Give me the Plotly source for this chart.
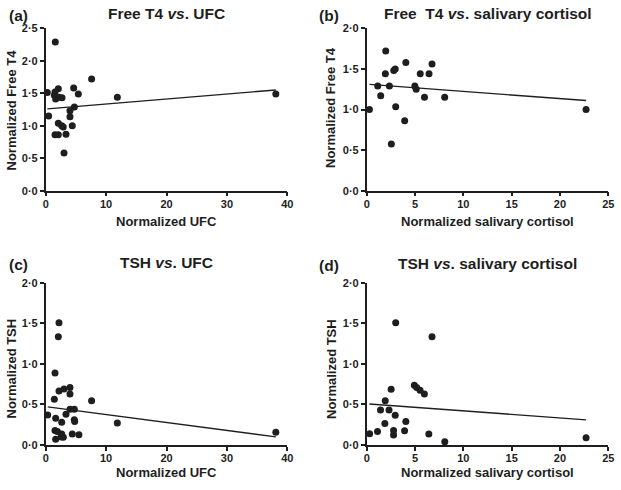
import plotly.graph_objects as go

# ---------------- data ----------------
# (a) Free T4 vs UFC
a_ufc = [1.59, 0.27, 0.49, 1.54, 2.09, 1.43, 1.65, 2.70, 4.63, 5.40, 7.60, 11.86, 38.1,
         4.74, 4.02, 4.02, 4.40, 2.09, 2.65, 2.90, 1.54, 2.09, 3.36, 3.03, 2.20]
a_ft4 = [2.29, 1.51, 1.15, 1.52, 1.57, 1.47, 1.41, 1.43, 1.58, 1.49, 1.72, 1.44, 1.49,
         1.29, 1.23, 1.14, 1.00, 1.04, 1.00, 0.98, 0.86, 0.86, 0.87, 0.58, 1.44]
a_fit_x = [0.27, 38.1]
a_fit_y = [1.26, 1.55]

# (b) Free T4 vs salivary cortisol
b_sal = [0.28, 1.14, 1.45, 1.97, 1.93, 2.35, 2.55, 2.80, 2.95, 3.00, 3.93, 4.05, 4.98,
         5.12, 5.54, 5.98, 6.45, 6.76, 8.07, 22.7]
b_ft4 = [1.00, 1.29, 1.17, 1.72, 1.44, 1.29, 0.575, 1.48, 1.50, 1.035, 0.86, 1.58, 1.29,
         1.25, 1.44, 1.15, 1.44, 1.56, 1.15, 1.00]
b_fit_x = [0.28, 22.7]
b_fit_y = [1.31, 1.11]

# (c) TSH vs UFC
c_ufc = [0.33, 2.20, 2.09, 1.54, 1.43, 2.20, 3.03, 4.02, 4.02, 4.02, 4.74, 3.36, 1.65,
         2.65, 4.74, 4.80, 7.60, 11.86, 38.1, 1.54, 1.93, 1.65, 2.65, 2.92, 2.54, 4.40, 5.50]
c_tsh = [0.37, 1.507, 1.335, 0.887, 0.563, 0.665, 0.69, 0.71, 0.63, 0.44, 0.44, 0.378, 0.33,
         0.28, 0.31, 0.29, 0.546, 0.27, 0.156, 0.18, 0.165, 0.07, 0.135, 0.095, 0.10, 0.135, 0.127]
c_fit_x = [0.33, 38.1]
c_fit_y = [0.47, 0.10]

# (d) TSH vs salivary cortisol
d_sal = [0.30, 1.12, 1.43, 1.92, 1.88, 2.31, 2.53, 3.00, 2.95, 2.78, 2.78, 3.92, 4.05,
         4.93, 5.17, 5.52, 5.97, 6.76, 6.43, 8.08, 22.7]
d_tsh = [0.14, 0.166, 0.43, 0.545, 0.265, 0.43, 0.688, 1.505, 0.367, 0.178, 0.122, 0.177, 0.29,
         0.737, 0.71, 0.674, 0.63, 1.333, 0.135, 0.04, 0.09]
d_fit_x = [0.28, 22.7]
d_fit_y = [0.505, 0.31]

y_ticks_a = [0, 0.5, 1.0, 1.5, 2.0, 2.5]
y_text_a = ["0·0", "0·5", "1·0", "1·5", "2·0", "2·5"]
y_ticks_2 = [0, 0.5, 1.0, 1.5, 2.0]
y_text_2 = ["0·0", "0·5", "1·0", "1·5", "2·0"]
x_ticks_ufc = [0, 10, 20, 30, 40]
x_ticks_sal = [0, 5, 10, 15, 20, 25]

# ---------------- figure ----------------
W, H = 621, 490
FONT = "Arial, Liberation Sans, sans-serif"
INK = "#1e1e1e"

def px_x(p):
    return p / W

def px_y(p):
    return 1 - p / H

fig = go.Figure()

panels = [
    dict(x=a_ufc, y=a_ft4, fx=a_fit_x, fy=a_fit_y, xr=[0, 40], yr=[0, 2.5],
         xt=x_ticks_ufc, yt=y_ticks_a, ytt=y_text_a,
         xd=[45.7, 287.3], yd=[190.7, 28.3]),
    dict(x=b_sal, y=b_ft4, fx=b_fit_x, fy=b_fit_y, xr=[0, 25], yr=[0, 2.0],
         xt=x_ticks_sal, yt=y_ticks_2, ytt=y_text_2,
         xd=[366.7, 608.3], yd=[190.7, 28.3]),
    dict(x=c_ufc, y=c_tsh, fx=c_fit_x, fy=c_fit_y, xr=[0, 40], yr=[0, 2.0],
         xt=x_ticks_ufc, yt=y_ticks_2, ytt=y_text_2,
         xd=[45.7, 287.3], yd=[445.0, 282.7]),
    dict(x=d_sal, y=d_tsh, fx=d_fit_x, fy=d_fit_y, xr=[0, 25], yr=[0, 2.0],
         xt=x_ticks_sal, yt=y_ticks_2, ytt=y_text_2,
         xd=[366.7, 608.3], yd=[445.0, 282.7]),
]

layout_axes = {}
for i, p in enumerate(panels, start=1):
    xa = "x" if i == 1 else f"x{i}"
    ya = "y" if i == 1 else f"y{i}"
    fig.add_trace(go.Scatter(x=p["x"], y=p["y"], mode="markers", xaxis=xa, yaxis=ya,
                             marker=dict(size=7, color=INK), cliponaxis=False,
                             showlegend=False, hoverinfo="x+y"))
    fig.add_trace(go.Scatter(x=p["fx"], y=p["fy"], mode="lines", xaxis=xa, yaxis=ya,
                             line=dict(color=INK, width=1.4), showlegend=False,
                             hoverinfo="skip"))
    xkey = "xaxis" if i == 1 else f"xaxis{i}"
    ykey = "yaxis" if i == 1 else f"yaxis{i}"
    common = dict(showline=True, linecolor=INK, linewidth=1.5, ticks="outside",
                  ticklen=4, tickwidth=1.5, tickcolor=INK, showgrid=False,
                  zeroline=False, fixedrange=True, automargin=False,
                  tickfont=dict(family=FONT, size=11, color=INK, weight="bold"))
    layout_axes[xkey] = dict(common, domain=[px_x(p["xd"][0]), px_x(p["xd"][1])],
                             range=p["xr"], tickvals=p["xt"], anchor=ya,
                             ticklabelstandoff=-2)
    layout_axes[ykey] = dict(common, domain=[px_y(p["yd"][0]), px_y(p["yd"][1])],
                             range=p["yr"], tickvals=p["yt"], ticktext=p["ytt"], anchor=xa)

fig.update_layout(**layout_axes)

ann = []
def txt(text, x, y, size, xanchor="center", angle=0):
    ann.append(dict(text=text, x=px_x(x), y=px_y(y), xref="paper", yref="paper",
                    showarrow=False, xanchor=xanchor, yanchor="middle", textangle=angle,
                    font=dict(family=FONT, size=size, color=INK)))

TS = 15.5
# panel letters and titles
txt("<b>(a)</b>", 6.5, 16, TS, xanchor="left")
txt("<b>Free T4 <i>vs</i>. UFC</b>", 167, 13.5, TS)
txt("<b>(b)</b>", 316.5, 16, TS, xanchor="left")
txt("<b>Free\u00a0 T4 <i>vs</i>. salivary cortisol</b>", 487.5, 13.5, TS)
txt("<b>(c)</b>", 6.5, 264.5, TS, xanchor="left")
txt("<b>TSH <i>vs</i>. UFC</b>", 167, 262.5, TS)
txt("<b>(d)</b>", 316.5, 265.5, TS, xanchor="left")
txt("<b>TSH <i>vs</i>. salivary cortisol</b>", 487.5, 263.5, TS)

AS = 13
# axis titles
txt("<b>Normalized UFC</b>", 166.5, 221, AS)
txt("<b>Normalized salivary cortisol</b>", 487.5, 221, AS)
txt("<b>Normalized UFC</b>", 166.5, 472, AS)
txt("<b>Normalized salivary cortisol</b>", 487.5, 472, AS)
txt("<b>Normalized Free T4</b>", 10.5, 110, AS, angle=-90)
txt("<b>Normalized Free T4</b>", 331, 108, AS, angle=-90)
txt("<b>Normalized TSH</b>", 10.5, 369, AS, angle=-90)
txt("<b>Normalized TSH</b>", 331, 369, AS, angle=-90)

fig.update_layout(width=W, height=H, margin=dict(l=0, r=0, t=0, b=0, autoexpand=False),
                  paper_bgcolor="white", plot_bgcolor="white", annotations=ann,
                  font=dict(family=FONT, color=INK))

fig.write_html("out.html", config={"displayModeBar": False},
               post_script="document.body.style.margin='0';document.body.style.overflow='hidden';")
